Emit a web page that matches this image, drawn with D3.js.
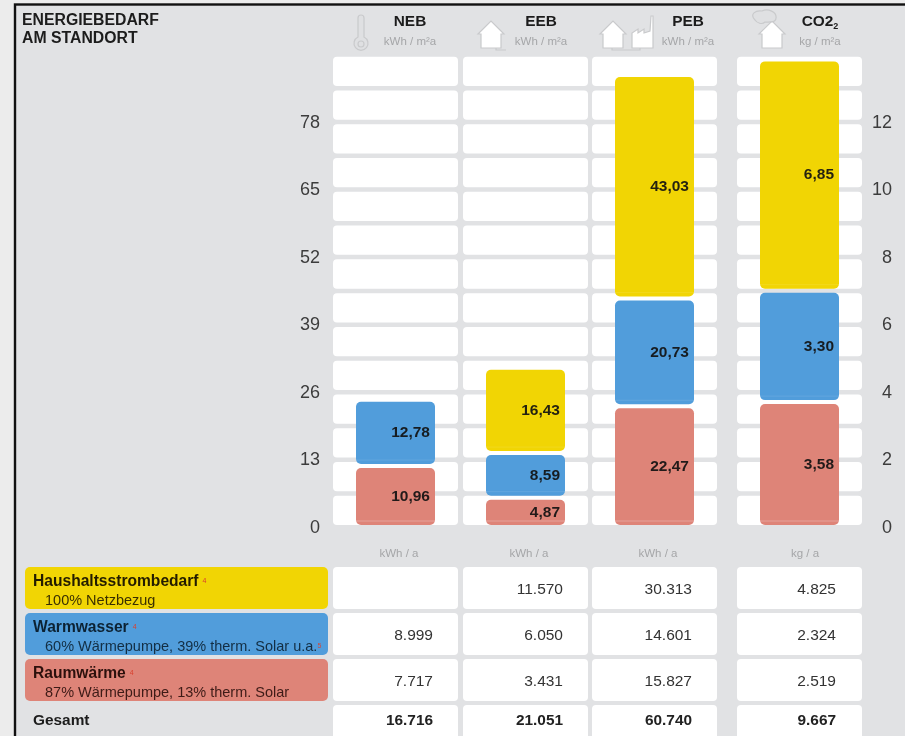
<!DOCTYPE html>
<html>
<head>
<meta charset="utf-8">
<script src="https://cdn.jsdelivr.net/npm/d3@7"></script>
<style>
    html, body { margin: 0; padding: 0; background: #ececec; }
    svg { display: block; font-family: "Liberation Sans", Arial, sans-serif; filter: blur(0.5px); }
</style>
</head>
<body>
<div id="chart"></div>
<script>
// Kennzahlen
var columns = ['NEB', 'EEB', 'PEB', 'CO2'];
var columnUnits = ['kWh / m²a', 'kWh / m²a', 'kWh / m²a', 'kg / m²a'];
var totalUnits = ['kWh / a', 'kWh / a', 'kWh / a', 'kg / a'];

// Werte von unten nach oben: Raumwaerme, Warmwasser, Haushaltsstrom
var raumwaerme = [10.96, 4.87, 22.47, 3.58];
var warmwasser = [12.78, 8.59, 20.73, 3.30];
var haushalt = [null, 16.43, 43.03, 6.85];

var leftTicks = [0, 13, 26, 39, 52, 65, 78];
var rightTicks = [0, 2, 4, 6, 8, 10, 12];

var tableHaushalt = ['', '11.570', '30.313', '4.825'];
var tableWarmwasser = ['8.999', '6.050', '14.601', '2.324'];
var tableRaumwaerme = ['7.717', '3.431', '15.827', '2.519'];
var tableGesamt = ['16.716', '21.051', '60.740', '9.667'];

var legendNames = ['Haushaltsstrombedarf', 'Warmwasser', 'Raumwärme'];
var legendNotes = ['100% Netzbezug', '60% Wärmepumpe, 39% therm. Solar u.a.', '87% Wärmepumpe, 13% therm. Solar'];

var colors = {yellow: '#f1d504', blue: '#519ddb', red: '#de8478'};
var seriesColors = [colors.red, colors.blue, colors.yellow];

var width = 905;
var height = 736;
var cellWidth = 125;
var barWidth = 79;

var svg = d3.select('#chart')
    .append('svg')
    .attr('width', width)
    .attr('height', height);

// Hintergrund mit schwarzem Rand
svg.append('rect').attr('x', 15).attr('y', 4.5).attr('width', width).attr('height', height)
    .attr('fill', '#e1e2e4').attr('stroke', '#111').attr('stroke-width', 2.4);

var xScale = d3.scaleOrdinal().domain(columns).range([333, 463, 592, 737]);
var yLeft = d3.scaleLinear().domain([0, 78]).range([525, 119.8]);
var yRight = d3.scaleLinear().domain([0, 12]).range([525, 119.8]);

function yFor(col) {
    return col === 'CO2' ? yRight : yLeft;
}

// weisses Raster hinter den Balken
var rowSteps = d3.range(14);
columns.forEach(function (col) {
    svg.append('g')
        .selectAll('rect')
        .data(rowSteps)
        .enter()
        .append('rect')
        .attr('x', xScale(col))
        .attr('y', function (d) { return yLeft((d + 1) * 6.5) + 4.5; })
        .attr('width', cellWidth)
        .attr('height', yLeft(0) - yLeft(6.5) - 4.5)
        .attr('rx', 4)
        .attr('fill', '#fff');
});

// gestapelte Balken
var stackData = [];
columns.forEach(function (col, c) {
    var y = yFor(col);
    var sum = 0;
    [raumwaerme[c], warmwasser[c], haushalt[c]].forEach(function (v, s) {
        if (v === null) return;
        stackData.push({col: col, value: v, s: s, y0: y(sum), y1: y(sum + v)});
        sum += v;
    });
});

var bars = svg.append('g')
    .selectAll('g')
    .data(stackData)
    .enter()
    .append('g');

function barBottom(d) {
    return d.y0 - (d.s > 0 ? 4 : 0);
}
function barX(d) {
    return xScale(d.col) + (cellWidth - barWidth) / 2;
}

bars.append('rect')
    .attr('x', barX)
    .attr('y', function (d) { return d.y1; })
    .attr('width', barWidth)
    .attr('height', function (d) { return barBottom(d) - d.y1; })
    .attr('rx', 5)
    .attr('fill', function (d) { return seriesColors[d.s]; });

// helle Linie kurz ueber der Unterkante
bars.append('line')
    .attr('x1', barX)
    .attr('x2', function (d) { return barX(d) + barWidth; })
    .attr('y1', function (d) { return barBottom(d) - 4; })
    .attr('y2', function (d) { return barBottom(d) - 4; })
    .attr('stroke', '#fff')
    .attr('stroke-opacity', function (d) { return d.s === 0 ? 0.25 : 0.1; })
    .attr('stroke-width', 1);

bars.append('text')
    .attr('x', function (d) { return barX(d) + barWidth - 5; })
    .attr('y', function (d) { return (barBottom(d) + d.y1) / 2 - 1; })
    .attr('dy', '0.35em')
    .attr('text-anchor', 'end')
    .attr('font-size', 15.5)
    .attr('font-weight', 'bold')
    .attr('fill', '#111')
    .attr('fill-opacity', 0.92)
    .text(function (d) { return d.value.toFixed(2).replace('.', ','); });

// Achsen
var leftAxis = d3.axisLeft(yLeft).tickValues(leftTicks).tickSize(0).tickPadding(0);
var rightAxis = d3.axisRight(yRight).tickValues(rightTicks).tickSize(0).tickPadding(0);

svg.append('g')
    .attr('transform', 'translate(320,1.5)')
    .call(leftAxis)
    .call(function (g) { g.select('.domain').remove(); });
svg.append('g')
    .attr('transform', 'translate(892,1.5)')
    .call(rightAxis)
    .call(function (g) { g.select('.domain').remove(); })
    .call(function (g) { g.selectAll('text').attr('text-anchor', 'end'); });

svg.selectAll('.tick text')
    .attr('font-family', '"Liberation Sans", Arial, sans-serif')
    .attr('font-size', 18)
    .attr('fill', '#3c3c3c');

// Titel
svg.append('text').attr('x', 22).attr('y', 25).attr('font-size', 15.8).attr('font-weight', 'bold')
    .attr('fill', '#1c1c1c').text('ENERGIEBEDARF');
svg.append('text').attr('x', 22).attr('y', 43).attr('font-size', 15.8).attr('font-weight', 'bold')
    .attr('fill', '#1c1c1c').text('AM STANDORT');

// Spaltenkoepfe
var headCenters = [410, 541, 688, 820];
columns.forEach(function (col, i) {
    var t = svg.append('text')
        .attr('x', headCenters[i])
        .attr('y', 26)
        .attr('text-anchor', 'middle')
        .attr('font-size', 15.4)
        .attr('font-weight', 'bold')
        .attr('fill', '#1c1c1c');
    if (col === 'CO2') {
        t.append('tspan').text('CO2');
        t.append('tspan').attr('font-size', 9).attr('dy', 3).text('2');
    } else {
        t.text(col);
    }
    svg.append('text')
        .attr('x', headCenters[i])
        .attr('y', 45)
        .attr('text-anchor', 'middle')
        .attr('font-size', 11.5)
        .attr('fill', '#a5a6a8')
        .text(columnUnits[i]);
    svg.append('text')
        .attr('x', xScale(col) + (i === 3 ? 68 : 66))
        .attr('y', 557)
        .attr('text-anchor', 'middle')
        .attr('font-size', 11.5)
        .attr('fill', '#a5a6a8')
        .text(totalUnits[i]);
});

// Symbole
var icons = svg.append('g').attr('fill', '#fff').attr('stroke', '#c9cacc').attr('stroke-width', 1.2);
var housePath = 'M0,13 L13,0 L26,13 L23,13 L23,27 L3,27 L3,13 Z';
icons.append('path').attr('d', 'M358,18 a3,3 0 0 1 6,0 V37 a7,7 0 1 1 -6,0 Z').attr('fill', '#dfe0e2');
icons.append('circle').attr('cx', 361).attr('cy', 44).attr('r', 3).attr('fill', 'none');
icons.append('path').attr('d', housePath).attr('transform', 'translate(478,21)');
icons.append('path').attr('d', 'M496,48 V50 H506').attr('fill', 'none');
icons.append('path').attr('d', housePath).attr('transform', 'translate(600,21)');
icons.append('path').attr('d', 'M632,48 V33 L638,29 V33 L644,29 V33 L650,31 L651,16 L653,16 V48 Z');
icons.append('path').attr('d', 'M612,48 V50 H640 V48').attr('fill', 'none');
icons.append('path').attr('d', housePath).attr('transform', 'translate(759,21)');
icons.append('path').attr('d', 'M755,20 C749,14 756,10 762,11 C768,8 777,12 776,18 C776,23 768,22 765,22 C762,25 757,23 755,20 Z')
    .attr('fill', '#dfe0e2');

// Tabelle unten
var tableRows = [
    {y: 567, h: 42, values: tableHaushalt, color: colors.yellow, ink: '#231c00'},
    {y: 613, h: 42, values: tableWarmwasser, color: colors.blue, ink: '#0c2233'},
    {y: 659, h: 42, values: tableRaumwaerme, color: colors.red, ink: '#2c100c'}
];

tableRows.forEach(function (row, r) {
    svg.append('rect').attr('x', 25).attr('y', row.y).attr('width', 303).attr('height', row.h)
        .attr('rx', 5).attr('fill', row.color);
    var name = svg.append('text').attr('x', 33).attr('y', row.y + 18.5)
        .attr('font-size', 15.6).attr('font-weight', 'bold').attr('fill', row.ink);
    name.append('tspan').text(legendNames[r]);
    name.append('tspan').attr('dx', 4).attr('dy', -3).attr('font-size', 7).attr('font-weight', 'normal')
        .attr('fill', '#d9402e').text('4');
    var note = svg.append('text').attr('x', 45).attr('y', row.y + 38)
        .attr('font-size', 14.5).attr('fill', row.ink).attr('fill-opacity', 0.9);
    note.append('tspan').text(legendNotes[r]);
    if (r === 1) {
        note.append('tspan').attr('dy', -3).attr('font-size', 7).attr('fill', '#d9402e').text('5');
    }
    columns.forEach(function (col, i) {
        svg.append('rect').attr('x', xScale(col)).attr('y', row.y).attr('width', cellWidth).attr('height', row.h)
            .attr('rx', 4).attr('fill', '#fff');
        svg.append('text').attr('x', xScale(col) + cellWidth - (i === 3 ? 26 : 25)).attr('y', row.y + 26.5)
            .attr('text-anchor', 'end').attr('font-size', 15.5).attr('fill', '#333')
            .text(row.values[i]);
    });
});

svg.append('text').attr('x', 33).attr('y', 724.5).attr('font-size', 15.4).attr('font-weight', 'bold')
    .attr('fill', '#1c1c1c').text('Gesamt');
columns.forEach(function (col, i) {
    svg.append('rect').attr('x', xScale(col)).attr('y', 705).attr('width', cellWidth).attr('height', 40)
        .attr('rx', 4).attr('fill', '#fff');
    svg.append('text').attr('x', xScale(col) + cellWidth - (i === 3 ? 26 : 25)).attr('y', 724.5)
        .attr('text-anchor', 'end').attr('font-size', 15.4).attr('font-weight', 'bold').attr('fill', '#222')
        .text(tableGesamt[i]);
});
</script>
</body>
</html>
